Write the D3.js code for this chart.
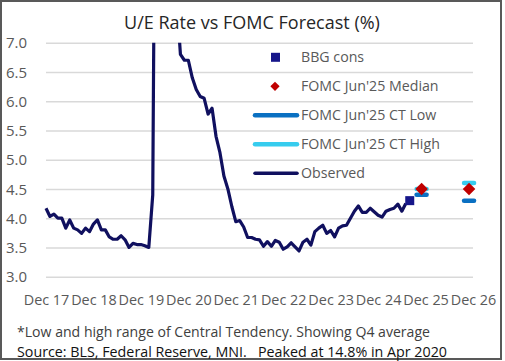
<!DOCTYPE html>
<html>
<head>
<meta charset="utf-8">
<script src="https://cdn.jsdelivr.net/npm/d3@7"></script>
<style>
  body { margin: 0; background: #fff; }
  text { font-family: "Open Sans", sans-serif; }
</style>
</head>
<body>
<div id="chart"></div>
<script>
// 1: DATA
const xTickLabels = ["Dec 17", "Dec 18", "Dec 19", "Dec 20", "Dec 21", "Dec 22", "Dec 23", "Dec 24", "Dec 25", "Dec 26"];
const yTicks = [3.0, 3.5, 4.0, 4.5, 5.0, 5.5, 6.0, 6.5, 7.0];

// monthly U/E rate, Dec 2017 .. Jul 2025
const observedStart = "2017-12";
const observed = [
  4.17, 4.03, 4.07, 4.0, 4.0, 3.83, 3.97, 3.83, 3.8, 3.74, 3.83, 3.77,
  3.9, 3.97, 3.8, 3.8, 3.68, 3.64, 3.64, 3.7, 3.63, 3.5, 3.57, 3.55,
  3.55, 3.53, 3.5, 4.4, 14.8, 13.2, 11.0, 10.2, 8.4, 7.8, 6.8, 6.7,
  6.7, 6.4, 6.2, 6.08, 6.05, 5.78, 5.88, 5.4, 5.12, 4.72, 4.5, 4.2,
  3.94, 3.96, 3.85, 3.67, 3.67, 3.64, 3.63, 3.52, 3.6, 3.52, 3.62, 3.59,
  3.47, 3.51, 3.58, 3.51, 3.44, 3.59, 3.64, 3.54, 3.77, 3.83, 3.88, 3.74,
  3.79, 3.68, 3.83, 3.87, 3.88, 4.0, 4.12, 4.21, 4.1, 4.1, 4.17, 4.11,
  4.05, 4.02, 4.12, 4.15, 4.17, 4.24, 4.12, 4.25
];

const bbgDates = ["2025-08"];
const bbgCons = [4.3];

// FOMC Jun'25 SEP, Q4 averages
const fomcDates = ["2025-11", "2026-11"];
const fomcMedian = [4.5, 4.5];
const ctLow = [4.4, 4.3];
const ctHigh = [4.5, 4.6];

const legendItems = ["BBG cons", "FOMC Jun'25 Median", "FOMC Jun'25 CT Low", "FOMC Jun'25 CT High", "Observed"];

// 2: LAYOUT
const W = 505, H = 361;
const plot = { left: 46, right: 473, top: 42.7, bottom: 276.7 };

const monthIndex = s => {
  const [y, m] = s.split("-").map(Number);
  return (y - 2017) * 12 + (m - 12);
};
const startIdx = monthIndex(observedStart);

const x = d3.scaleLinear().domain([0, 108]).range([plot.left, plot.right]);
const y = d3.scaleLinear().domain([3, 7]).range([plot.bottom, plot.top]);

const svg = d3.select("#chart").append("svg")
  .attr("width", W)
  .attr("height", H);

svg.append("rect")
  .attr("x", 1).attr("y", 1)
  .attr("width", W - 5).attr("height", H - 3)
  .attr("fill", "#fff")
  .attr("stroke", "#595959")
  .attr("stroke-width", 2);

// title
svg.append("text")
  .attr("x", 252)
  .attr("y", 29)
  .attr("text-anchor", "middle")
  .style("font-size", "18px")
  .style("fill", "#262626")
  .text("U/E Rate vs FOMC Forecast (%)");

// 3: GRID + AXES
const yAxis = svg.append("g")
  .attr("transform", `translate(${plot.left},0)`)
  .call(d3.axisLeft(y).tickValues(yTicks).tickFormat(d3.format(".1f"))
    .tickSize(-(plot.right - plot.left)).tickPadding(19));
yAxis.select(".domain").remove();
yAxis.selectAll(".tick line").attr("stroke", "#d9d9d9").attr("stroke-width", 1.4);
yAxis.selectAll(".tick text")
  .style("font-size", "15px")
  .style("fill", "#595959")
  .attr("text-anchor", "end")
  .attr("dy", "0.35em");

const xAxis = svg.append("g")
  .attr("transform", `translate(0,${plot.bottom})`)
  .call(d3.axisBottom(x).tickValues(xTickLabels.map((d, i) => i * 12))
    .tickFormat((d, i) => xTickLabels[i]).tickSize(0).tickPadding(18));
xAxis.select(".domain").remove();
xAxis.selectAll(".tick text")
  .style("font-size", "14.4px")
  .style("fill", "#595959");

// 4: SERIES
svg.append("clipPath").attr("id", "plotClip")
  .append("rect")
  .attr("x", plot.left - 5).attr("y", plot.top)
  .attr("width", plot.right - plot.left + 10)
  .attr("height", plot.bottom - plot.top + 5);

const line = d3.line()
  .x((d, i) => x(startIdx + i))
  .y(d => y(d));

svg.append("path")
  .datum(observed)
  .attr("clip-path", "url(#plotClip)")
  .attr("fill", "none")
  .attr("stroke", "#10105f")
  .attr("stroke-width", 3.2)
  .attr("stroke-linejoin", "round")
  .attr("d", line);

svg.selectAll(".bbg")
  .data(bbgCons)
  .enter().append("rect")
  .attr("class", "bbg")
  .attr("x", (d, i) => x(monthIndex(bbgDates[i])) - 4.5)
  .attr("y", d => y(d) - 4.5)
  .attr("width", 9).attr("height", 9)
  .attr("fill", "#16168a");

const dash = (sel, values, color) => sel.selectAll(null)
  .data(values)
  .enter().append("line")
  .attr("x1", (d, i) => x(monthIndex(fomcDates[i])) - 5)
  .attr("x2", (d, i) => x(monthIndex(fomcDates[i])) + 5)
  .attr("y1", d => y(d)).attr("y2", d => y(d))
  .attr("stroke", color)
  .attr("stroke-width", 4.5)
  .attr("stroke-linecap", "round");

dash(svg.append("g"), ctLow, "#0a70c2");
dash(svg.append("g"), ctHigh, "#36ccee");

const diamond = d3.symbol().type(d3.symbolDiamond2).size(100);
svg.selectAll(".median")
  .data(fomcMedian)
  .enter().append("path")
  .attr("class", "median")
  .attr("transform", (d, i) => `translate(${x(monthIndex(fomcDates[i]))},${y(d)})`)
  .attr("d", diamond)
  .attr("fill", "#c00000");

// 5: LEGEND
const legend = svg.append("g");
legendItems.forEach((label, i) => {
  const ly = 57.3 + i * 29;
  const g = legend.append("g");
  if (i === 0) {
    g.append("rect").attr("x", 271).attr("y", ly - 4.5).attr("width", 9).attr("height", 9).attr("fill", "#16168a");
  } else if (i === 1) {
    g.append("path").attr("transform", `translate(275,${ly})`).attr("d", d3.symbol().type(d3.symbolDiamond2).size(55)()).attr("fill", "#c00000");
  } else {
    const c = i === 2 ? "#0a70c2" : i === 3 ? "#36ccee" : "#10105f";
    g.append("line").attr("x1", 255).attr("x2", 297).attr("y1", ly).attr("y2", ly)
      .attr("stroke", c).attr("stroke-width", i === 4 ? 3.5 : 4.5).attr("stroke-linecap", "round");
  }
  g.append("text")
    .attr("x", 301).attr("y", ly).attr("dy", "0.35em")
    .style("font-size", "14.2px").style("fill", "#595959")
    .text(label);
});

// 6: NOTES
svg.append("text")
  .attr("x", 17).attr("y", 337)
  .style("font-size", "15px").style("fill", "#404040")
  .attr("textLength", 413).attr("lengthAdjust", "spacingAndGlyphs")
  .text("*Low and high range of Central Tendency. Showing Q4 average");

svg.append("text")
  .attr("x", 17).attr("y", 356.5)
  .style("font-size", "15px").style("fill", "#111")
  .attr("textLength", 430).attr("lengthAdjust", "spacingAndGlyphs")
  .attr("xml:space", "preserve")
  .text("Source: BLS, Federal Reserve, MNI.   Peaked at 14.8% in Apr 2020");
</script>
</body>
</html>
